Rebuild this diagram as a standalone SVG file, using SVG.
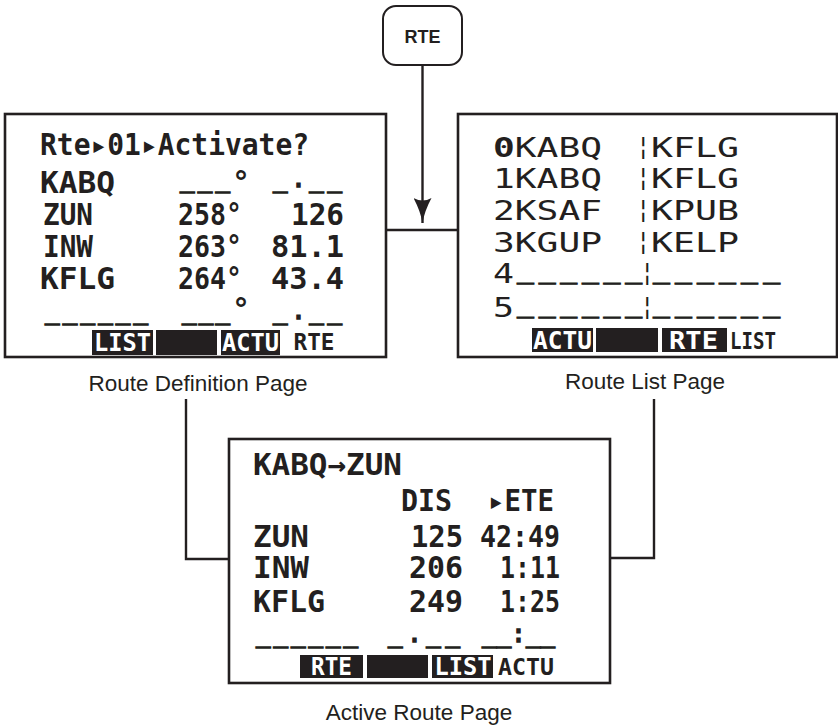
<svg xmlns="http://www.w3.org/2000/svg" width="838" height="725" viewBox="0 0 838 725">
<defs>
<style>
.box{fill:#fff;stroke:#231f20;stroke-width:2.6}
.key{fill:#fff;stroke:#231f20;stroke-width:2}
.conn{fill:none;stroke:#231f20;stroke-width:2.4}
.lcd{font-family:"DejaVu Sans Mono",monospace;font-weight:bold;font-size:30px;fill:#231f20}
.lst{font-family:"DejaVu Sans Mono",monospace;font-size:27px;fill:#231f20}
.sep{font-family:"DejaVu Sans Mono",monospace;font-size:24px;fill:#231f20}
.ul{font-family:"DejaVu Sans Mono",monospace;font-size:24px;fill:#231f20;stroke:#231f20;stroke-width:1.5}
.ul2{font-family:"DejaVu Sans Mono",monospace;font-size:28px;fill:#231f20;stroke:#231f20;stroke-width:1.2}
.tab{fill:#231f20}
.tt{font-family:"DejaVu Sans Mono",monospace;font-weight:bold;font-size:24px;fill:#fff}
.pt{font-family:"DejaVu Sans Mono",monospace;font-weight:bold;font-size:23px;fill:#231f20}
.cap{font-family:"Liberation Sans",Arial,sans-serif;font-size:22.5px;fill:#231f20;text-anchor:middle}
.keyt{font-family:"Liberation Sans",Arial,sans-serif;font-weight:bold;font-size:18px;fill:#231f20;text-anchor:middle}
</style>
<marker id="arrow" markerUnits="userSpaceOnUse" markerWidth="25" markerHeight="18" viewBox="0 0 25 18" refX="25" refY="9" orient="auto">
<path d="M0,0 Q5,9 0,18 Q13,11 25,9 Q13,7 0,0 Z" fill="#231f20"/>
</marker>
</defs>
<rect width="838" height="725" fill="#fff"/>

<g id="connectors">
<path class="conn" d="M422.5,65 V223" marker-end="url(#arrow)"/>
<path class="conn" d="M386,230 H458"/>
<path class="conn" d="M186,399 V559 H229"/>
<path class="conn" d="M654,399 V558 H610"/>
</g>

<g id="rte-key">
<rect class="key" x="383" y="6" width="79" height="59" rx="13"/>
<text class="keyt" x="422.5" y="43">RTE</text>
</g>

<g id="route-definition-page">
<rect class="box" x="5" y="114" width="381" height="243"/>
<g class="lcd">
<text x="40" y="155" textLength="269" lengthAdjust="spacingAndGlyphs">Rte▸01▸Activate?</text>
<text x="40" y="193" textLength="75" lengthAdjust="spacingAndGlyphs">KABQ</text>
<text x="232" y="193">°</text>
<text x="43" y="225" textLength="50" lengthAdjust="spacingAndGlyphs">ZUN</text>
<text x="178" y="225" textLength="64" lengthAdjust="spacingAndGlyphs">258°</text>
<text x="291" y="225" textLength="53" lengthAdjust="spacingAndGlyphs">126</text>
<text x="43" y="257" textLength="50" lengthAdjust="spacingAndGlyphs">INW</text>
<text x="178" y="257" textLength="64" lengthAdjust="spacingAndGlyphs">263°</text>
<text x="271" y="257" textLength="73" lengthAdjust="spacingAndGlyphs">81.1</text>
<text x="40" y="288.5" textLength="75" lengthAdjust="spacingAndGlyphs">KFLG</text>
<text x="178" y="288.5" textLength="64" lengthAdjust="spacingAndGlyphs">264°</text>
<text x="271" y="288.5" textLength="73" lengthAdjust="spacingAndGlyphs">43.4</text>
<text x="232" y="320">°</text>
</g>
<text class="ul" x="180" y="187" textLength="50" lengthAdjust="spacing">___</text>
<text class="ul" x="273" y="187" textLength="69" lengthAdjust="spacing">_.__</text>
<text class="ul" x="45" y="319" textLength="103" lengthAdjust="spacing">______</text>
<text class="ul" x="182" y="319" textLength="48" lengthAdjust="spacing">___</text>
<text class="ul" x="273" y="319" textLength="69" lengthAdjust="spacing">_.__</text>
<rect class="tab" x="92" y="330" width="61" height="25"/>
<rect class="tab" x="156" y="330" width="61" height="25"/>
<rect class="tab" x="221" y="330" width="59" height="25"/>
<text class="tt" x="94" y="351" textLength="57" lengthAdjust="spacingAndGlyphs">LIST</text>
<text class="tt" x="222" y="351" textLength="57" lengthAdjust="spacingAndGlyphs">ACTU</text>
<text class="pt" x="293.5" y="350" textLength="41" lengthAdjust="spacingAndGlyphs">RTE</text>
<text class="cap" x="198" y="391">Route Definition Page</text>
</g>

<g id="route-list-page">
<rect class="box" x="458" y="114" width="379" height="243"/>
<text class="lst" x="493" y="156.7" textLength="109" lengthAdjust="spacingAndGlyphs"><tspan font-weight="bold">0</tspan>KABQ</text>
<text class="sep" x="636" y="155">¦</text>
<text class="lst" x="651" y="156.7" textLength="88" lengthAdjust="spacingAndGlyphs">KFLG</text>
<text class="lst" x="493" y="188" textLength="109" lengthAdjust="spacingAndGlyphs">1KABQ</text>
<text class="sep" x="636" y="186">¦</text>
<text class="lst" x="651" y="188" textLength="88" lengthAdjust="spacingAndGlyphs">KFLG</text>
<text class="lst" x="493" y="220" textLength="109" lengthAdjust="spacingAndGlyphs">2KSAF</text>
<text class="sep" x="636" y="218">¦</text>
<text class="lst" x="651" y="220" textLength="88" lengthAdjust="spacingAndGlyphs">KPUB</text>
<text class="lst" x="493" y="251.7" textLength="109" lengthAdjust="spacingAndGlyphs">3KGUP</text>
<text class="sep" x="636" y="250">¦</text>
<text class="lst" x="651" y="251.7" textLength="88" lengthAdjust="spacingAndGlyphs">KELP</text>
<text class="lst" x="493" y="283" textLength="21" lengthAdjust="spacingAndGlyphs">4</text>
<text class="ul2" x="517" y="277.2" textLength="125" lengthAdjust="spacing">______</text>
<text class="sep" x="640" y="281">¦</text>
<text class="ul2" x="653" y="277.2" textLength="127" lengthAdjust="spacing">______</text>
<text class="lst" x="493" y="316.5" textLength="21" lengthAdjust="spacingAndGlyphs">5</text>
<text class="ul2" x="517" y="310.5" textLength="125" lengthAdjust="spacing">______</text>
<text class="sep" x="640" y="314.5">¦</text>
<text class="ul2" x="653" y="310.5" textLength="127" lengthAdjust="spacing">______</text>
<rect class="tab" x="532" y="328" width="61" height="24"/>
<rect class="tab" x="596" y="328" width="62" height="24"/>
<rect class="tab" x="662" y="328" width="65" height="24"/>
<text class="tt" x="533" y="349" textLength="59" lengthAdjust="spacingAndGlyphs">ACTU</text>
<text class="tt" x="669" y="349" textLength="49" lengthAdjust="spacingAndGlyphs">RTE</text>
<text class="pt" x="730" y="348.5" textLength="46" lengthAdjust="spacingAndGlyphs">LIST</text>
<text class="cap" x="645" y="389">Route List Page</text>
</g>

<g id="active-route-page">
<rect class="box" x="229" y="439" width="381" height="244"/>
<g class="lcd">
<text x="253" y="475" textLength="149" lengthAdjust="spacingAndGlyphs">KABQ→ZUN</text>
<text x="401" y="510.5" textLength="51" lengthAdjust="spacingAndGlyphs">DIS</text>
<text x="488" y="510.5" textLength="66" lengthAdjust="spacingAndGlyphs">▸ETE</text>
<text x="253" y="546.5" textLength="56" lengthAdjust="spacingAndGlyphs">ZUN</text>
<text x="411" y="546.5" textLength="52" lengthAdjust="spacingAndGlyphs">125</text>
<text x="480" y="546.5" textLength="80" lengthAdjust="spacingAndGlyphs">42:49</text>
<text x="253" y="578" textLength="56" lengthAdjust="spacingAndGlyphs">INW</text>
<text x="409" y="578" textLength="54" lengthAdjust="spacingAndGlyphs">206</text>
<text x="500" y="578" textLength="60" lengthAdjust="spacingAndGlyphs">1:11</text>
<text x="253" y="611.5" textLength="72" lengthAdjust="spacingAndGlyphs">KFLG</text>
<text x="409" y="611.5" textLength="54" lengthAdjust="spacingAndGlyphs">249</text>
<text x="500" y="611.5" textLength="60" lengthAdjust="spacingAndGlyphs">1:25</text>
</g>
<text class="ul" x="256" y="641.5" textLength="102" lengthAdjust="spacing">______</text>
<text class="ul" x="388" y="641.5" textLength="72" lengthAdjust="spacing">_.__</text>
<text class="ul" x="482" y="641.5" textLength="73" lengthAdjust="spacing">__:__</text>
<rect class="tab" x="300" y="655" width="63" height="23"/>
<rect class="tab" x="367" y="655" width="61" height="23"/>
<rect class="tab" x="432" y="655" width="61" height="23"/>
<text class="tt" x="311" y="675" textLength="41" lengthAdjust="spacingAndGlyphs">RTE</text>
<text class="tt" x="434.5" y="675" textLength="57" lengthAdjust="spacingAndGlyphs">LIST</text>
<text class="pt" x="498" y="675" textLength="56" lengthAdjust="spacingAndGlyphs">ACTU</text>
<text class="cap" x="419" y="720">Active Route Page</text>
</g>
</svg>
